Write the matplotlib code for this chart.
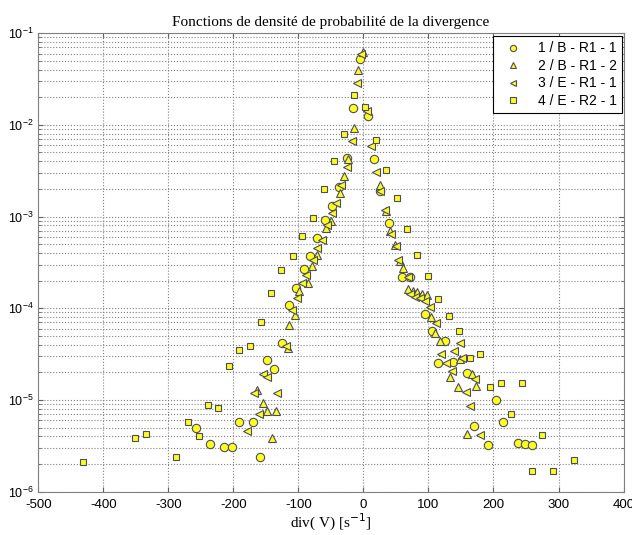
import numpy as np
import matplotlib
matplotlib.use('Agg')
import matplotlib.pyplot as plt

# 1 / B - R1 - 1 (cercles)
x1 = [-257, -236, -214, -202, -192, -170, -159, -148, -138, -125, -115, -104, -92, -82, -72,
      -59, -48, -38, -26, -16, -5, 7, 17, 26, 40, 60, 72, 94, 105, 115, 126, 138, 159, 170,
      192, 204, 214, 237, 248, 259]
y1 = [5.0e-6, 3.3e-6, 3.1e-6, 3.1e-6, 5.8e-6, 5.8e-6, 2.4e-6, 2.7e-5, 2.15e-5, 4.2e-5, 1.08e-4,
      1.68e-4, 2.7e-4, 3.7e-4, 5.8e-4, 9.2e-4, 1.32e-3, 2.1e-3, 4.3e-3, 1.53e-2, 5.2e-2, 1.24e-2,
      4.2e-3, 1.9e-3, 8.6e-4, 2.22e-4, 2.22e-4, 8.7e-5, 5.6e-5, 2.5e-5, 4.4e-5, 2.57e-5, 1.96e-5,
      5.2e-6, 3.2e-6, 9.9e-6, 5.8e-6, 3.4e-6, 3.3e-6, 3.2e-6]

# 2 / B - R1 - 2 (triangles)
x2 = [-163, -155, -149, -141, -135, -116, -114, -106, -99, -86, -79, -71, -57, -50, -36, -30,
      -24, -15, -8, -1, 26, 35, 41, 48, 56, 61, 68, 76, 83, 90, 98, 104, 110, 117, 133, 146,
      148, 159, 167, 173]
y2 = [1.28e-5, 9.2e-6, 7.6e-6, 3.8e-6, 7.6e-6, 3.7e-5, 6.5e-5, 8.5e-5, 1.56e-4, 1.9e-4, 2.9e-4,
      3.8e-4, 7.5e-4, 8.9e-4, 1.8e-3, 2.8e-3, 4.2e-3, 9.3e-3, 4.0e-2, 6.2e-2, 2.2e-3, 1.15e-3,
      7.0e-4, 4.9e-4, 3.3e-4, 2.75e-4, 1.61e-4, 1.56e-4, 1.51e-4, 1.44e-4, 1.4e-4, 8.1e-5, 5.4e-5,
      4.45e-5, 1.78e-5, 1.38e-5, 2.8e-5, 4.3e-6, 1.9e-5, 1.42e-5]

# 3 / E - R1 - 1 (triangles gauche)
x3 = [-179, -169, -161, -155, -148, -133, -119, -110, -102, -94, -88, -77, -72, -64, -56, -48,
      -42, -35, -26, -18, -10, -3, 6, 12, 20, 26, 33, 42, 50, 53, 68, 72, 80, 87, 95, 103, 111,
      120, 127, 136, 140, 149, 152, 157, 164, 172, 180]
y3 = [4.6e-6, 1.2e-5, 7.0e-6, 1.92e-5, 1.8e-5, 1.19e-5, 3.9e-5, 9.6e-5, 1.29e-4, 1.87e-4, 2.3e-4,
      3.4e-4, 4.5e-4, 5.5e-4, 8.1e-4, 1.09e-3, 1.39e-3, 2.2e-3, 3.5e-3, 6.7e-3, 2.85e-2, 6.0e-2,
      1.4e-2, 5.9e-3, 3.1e-3, 1.9e-3, 1.18e-3, 6.4e-4, 4.8e-4, 3.4e-4, 2.22e-4, 1.44e-4, 1.34e-4,
      1.31e-4, 1.21e-4, 1.02e-4, 6.9e-5, 3.2e-5, 2.5e-5, 2.05e-5, 3.46e-5, 4.2e-5, 2.9e-5,
      1.22e-5, 8.5e-6, 1.71e-5, 4.2e-6]

# 4 / E - R2 - 1 (carres)
x4 = [-432, -351, -335, -288, -270, -253, -239, -223, -206, -191, -174, -158, -142, -127, -109,
      -94, -78, -61, -45, -30, -14, 3, 20, 35, 51, 67, 83, 99, 114, 131, 147, 164, 180, 195,
      211, 227, 244, 259, 275, 291, 324]
y4 = [2.1e-6, 3.8e-6, 4.3e-6, 2.4e-6, 5.7e-6, 4.0e-6, 8.8e-6, 8.1e-6, 2.37e-5, 3.5e-5, 3.9e-5,
      7.0e-5, 1.46e-4, 2.6e-4, 3.7e-4, 6.2e-4, 9.6e-4, 2.0e-3, 4.0e-3, 8.0e-3, 2.14e-2, 1.58e-2,
      6.9e-3, 3.2e-3, 1.6e-3, 7.3e-4, 3.8e-4, 2.26e-4, 1.27e-4, 8.3e-5, 5.7e-5, 2.9e-5, 3.2e-5,
      1.37e-5, 1.55e-5, 7.1e-6, 1.55e-5, 1.66e-6, 4.2e-6, 1.66e-6, 2.2e-6]

labels = ['1 / B - R1 - 1', '2 / B - R1 - 2', '3 / E - R1 - 1', '4 / E - R2 - 1']
markers = ['o', '^', '<', 's']
sizes = [6, 5.5, 5.5, 5]

plt.rcParams['font.family'] = ['Liberation Sans', 'DejaVu Sans']
plt.rcParams['axes.unicode_minus'] = False

fig = plt.figure(figsize=(6.32, 5.35), dpi=100)
ax = fig.add_axes([0.0606, 0.081, 0.926, 0.857])

series = [(x1, y1), (x2, y2), (x3, y3), (x4, y4)]
for (xs, ys), lab, m, s in zip(series, labels, markers, sizes):
    ax.plot(xs, ys, linestyle='none', marker=m, markersize=s, markerfacecolor='#ffff1a',
            markeredgecolor='#4b4b66', markeredgewidth=0.8, label=lab)

ax.set_yscale('log')
ax.set_xlim(-500, 400)
ax.set_ylim(1e-6, 1e-1)
ax.set_xticks(np.arange(-500, 401, 100))

ax.grid(True, which='major', linestyle=':', color='#808080', linewidth=0.8)
ax.grid(True, which='minor', axis='y', linestyle=':', color='#808080', linewidth=0.8)
ax.tick_params(which='both', direction='in', top=True, right=True, labelsize=9.5, color='#606060')
ax.tick_params(axis='y', which='major', labelsize=9)
ax.tick_params(axis='x', pad=5)
for sp in ax.spines.values():
    sp.set_color('#808080')

ax.set_title('Fonctions de densité de probabilité de la divergence',
             family=['Liberation Serif', 'DejaVu Serif'], fontsize=11, pad=5)
ax.set_xlabel('div( V) [s$^{-1}$]', family=['Liberation Serif', 'DejaVu Serif'], fontsize=11,
              labelpad=1)

leg = ax.legend(loc='upper right', bbox_to_anchor=(0.998, 0.994), borderaxespad=0,
                fontsize=10, fancybox=False, framealpha=1, edgecolor='black',
                handletextpad=0.8, markerscale=0.75, borderpad=0.4, labelspacing=0.25)
leg.get_frame().set_linewidth(0.8)

fig.savefig('out.png', dpi=100)
